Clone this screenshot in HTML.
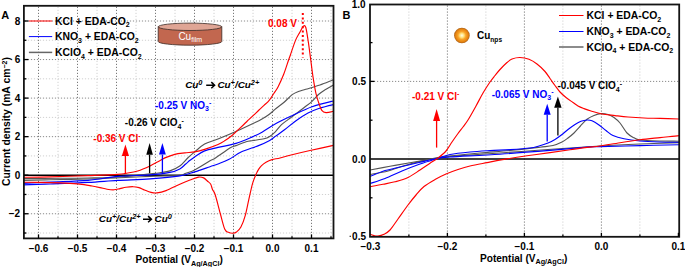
<!DOCTYPE html>
<html><head><meta charset="utf-8"><title>CV plots</title><style>html,body{margin:0;padding:0;background:#fff;width:685px;height:267px;overflow:hidden}svg{display:block}</style></head><body>
<svg width="685" height="267" viewBox="0 0 685 267">
<defs><clipPath id="ca"><rect x="23.9" y="5.8" width="309.6" height="232.6"/></clipPath>
<clipPath id="cb"><rect x="370.0" y="4.5" width="309.2" height="232.3"/></clipPath>
<radialGradient id="sph" cx="0.5" cy="0.5" r="0.5"><stop offset="0" stop-color="#fffde8"/><stop offset="0.28" stop-color="#ffe07a"/><stop offset="0.5" stop-color="#f9a52a"/><stop offset="0.82" stop-color="#e5820f"/><stop offset="1" stop-color="#a8601a"/></radialGradient>
</defs>
<rect width="685" height="267" fill="#ffffff"/>
<g><line x1="38.50" y1="6.8" x2="38.50" y2="237.4" stroke="#7a7a7a" stroke-width="1" stroke-dasharray="1.2,1.8"/><line x1="58.00" y1="6.8" x2="58.00" y2="237.4" stroke="#d0d0d0" stroke-width="1" stroke-dasharray="1.2,1.8"/><line x1="77.50" y1="6.8" x2="77.50" y2="237.4" stroke="#7a7a7a" stroke-width="1" stroke-dasharray="1.2,1.8"/><line x1="97.00" y1="6.8" x2="97.00" y2="237.4" stroke="#d0d0d0" stroke-width="1" stroke-dasharray="1.2,1.8"/><line x1="116.50" y1="6.8" x2="116.50" y2="237.4" stroke="#7a7a7a" stroke-width="1" stroke-dasharray="1.2,1.8"/><line x1="136.00" y1="6.8" x2="136.00" y2="237.4" stroke="#d0d0d0" stroke-width="1" stroke-dasharray="1.2,1.8"/><line x1="155.50" y1="6.8" x2="155.50" y2="237.4" stroke="#7a7a7a" stroke-width="1" stroke-dasharray="1.2,1.8"/><line x1="175.00" y1="6.8" x2="175.00" y2="237.4" stroke="#d0d0d0" stroke-width="1" stroke-dasharray="1.2,1.8"/><line x1="194.50" y1="6.8" x2="194.50" y2="237.4" stroke="#7a7a7a" stroke-width="1" stroke-dasharray="1.2,1.8"/><line x1="214.00" y1="6.8" x2="214.00" y2="237.4" stroke="#d0d0d0" stroke-width="1" stroke-dasharray="1.2,1.8"/><line x1="233.50" y1="6.8" x2="233.50" y2="237.4" stroke="#7a7a7a" stroke-width="1" stroke-dasharray="1.2,1.8"/><line x1="253.00" y1="6.8" x2="253.00" y2="237.4" stroke="#d0d0d0" stroke-width="1" stroke-dasharray="1.2,1.8"/><line x1="272.50" y1="6.8" x2="272.50" y2="237.4" stroke="#7a7a7a" stroke-width="1" stroke-dasharray="1.2,1.8"/><line x1="292.00" y1="6.8" x2="292.00" y2="237.4" stroke="#d0d0d0" stroke-width="1" stroke-dasharray="1.2,1.8"/><line x1="311.50" y1="6.8" x2="311.50" y2="237.4" stroke="#7a7a7a" stroke-width="1" stroke-dasharray="1.2,1.8"/><line x1="331.00" y1="6.8" x2="331.00" y2="237.4" stroke="#d0d0d0" stroke-width="1" stroke-dasharray="1.2,1.8"/><line x1="24.9" y1="233.02" x2="332.5" y2="233.02" stroke="#d0d0d0" stroke-width="1" stroke-dasharray="1.2,1.8"/><line x1="24.9" y1="213.75" x2="332.5" y2="213.75" stroke="#8a8a8a" stroke-width="1" stroke-dasharray="1.2,1.8"/><line x1="24.9" y1="194.47" x2="332.5" y2="194.47" stroke="#d0d0d0" stroke-width="1" stroke-dasharray="1.2,1.8"/><line x1="24.9" y1="155.92" x2="332.5" y2="155.92" stroke="#d0d0d0" stroke-width="1" stroke-dasharray="1.2,1.8"/><line x1="24.9" y1="136.65" x2="332.5" y2="136.65" stroke="#8a8a8a" stroke-width="1" stroke-dasharray="1.2,1.8"/><line x1="24.9" y1="117.38" x2="332.5" y2="117.38" stroke="#d0d0d0" stroke-width="1" stroke-dasharray="1.2,1.8"/><line x1="24.9" y1="98.10" x2="332.5" y2="98.10" stroke="#8a8a8a" stroke-width="1" stroke-dasharray="1.2,1.8"/><line x1="24.9" y1="78.82" x2="332.5" y2="78.82" stroke="#d0d0d0" stroke-width="1" stroke-dasharray="1.2,1.8"/><line x1="24.9" y1="59.55" x2="332.5" y2="59.55" stroke="#8a8a8a" stroke-width="1" stroke-dasharray="1.2,1.8"/><line x1="24.9" y1="40.28" x2="332.5" y2="40.28" stroke="#d0d0d0" stroke-width="1" stroke-dasharray="1.2,1.8"/><line x1="24.9" y1="21.00" x2="332.5" y2="21.00" stroke="#8a8a8a" stroke-width="1" stroke-dasharray="1.2,1.8"/></g>
<g><line x1="408.90" y1="5.5" x2="408.90" y2="235.8" stroke="#d0d0d0" stroke-width="1" stroke-dasharray="1.2,1.8"/><line x1="447.40" y1="5.5" x2="447.40" y2="235.8" stroke="#7a7a7a" stroke-width="1" stroke-dasharray="1.2,1.8"/><line x1="485.90" y1="5.5" x2="485.90" y2="235.8" stroke="#d0d0d0" stroke-width="1" stroke-dasharray="1.2,1.8"/><line x1="524.40" y1="5.5" x2="524.40" y2="235.8" stroke="#7a7a7a" stroke-width="1" stroke-dasharray="1.2,1.8"/><line x1="562.90" y1="5.5" x2="562.90" y2="235.8" stroke="#d0d0d0" stroke-width="1" stroke-dasharray="1.2,1.8"/><line x1="601.40" y1="5.5" x2="601.40" y2="235.8" stroke="#7a7a7a" stroke-width="1" stroke-dasharray="1.2,1.8"/><line x1="639.90" y1="5.5" x2="639.90" y2="235.8" stroke="#d0d0d0" stroke-width="1" stroke-dasharray="1.2,1.8"/><line x1="371.0" y1="81.40" x2="678.2" y2="81.40" stroke="#8a8a8a" stroke-width="1" stroke-dasharray="1.2,1.8"/></g>
<line x1="23.9" y1="175.20" x2="333.5" y2="175.20" stroke="#000" stroke-width="1.5"/>
<line x1="370.0" y1="159.00" x2="679.2" y2="159.00" stroke="#000" stroke-width="1.5"/>
<path d="M158.2,26.8 L158.2,41.5 A31.8,3.7 0 0 0 221.8,41.5 L221.8,26.8 Z" fill="#c2674f" stroke="#3a2a25" stroke-width="0.8"/>
<ellipse cx="190.0" cy="26.8" rx="31.8" ry="3.7" fill="#dfa595" stroke="#3a2a25" stroke-width="0.8"/>
<text x="178.4" y="39.5" font-family="Liberation Sans" font-size="10" fill="#ffffff">Cu<tspan font-size="7" dy="2.3">film</tspan></text>
<g clip-path="url(#ca)"><path d="M22.00,178.70 C28.33,178.63 49.00,178.42 60.00,178.30 C71.00,178.18 78.00,178.22 88.00,178.00 C98.00,177.78 109.67,177.68 120.00,177.00 C130.33,176.32 143.33,174.62 150.00,173.90 C156.67,173.18 156.68,173.20 160.00,172.70 C163.32,172.20 166.60,172.02 169.90,170.90 C173.20,169.78 176.83,168.15 179.80,166.00 C182.77,163.85 185.22,160.35 187.70,158.00 C190.18,155.65 191.88,154.23 194.70,151.90 C197.52,149.57 200.72,146.15 204.60,144.00 C208.48,141.85 212.32,141.30 218.00,139.00 C223.68,136.70 232.60,132.90 238.70,130.20 C244.80,127.50 250.72,124.67 254.60,122.80 C258.48,120.93 259.60,120.38 262.00,119.00 C264.40,117.62 266.67,116.25 269.00,114.50 C271.33,112.75 273.53,110.50 276.00,108.50 C278.47,106.50 281.03,104.85 283.80,102.50 C286.57,100.15 290.17,96.23 292.60,94.40 C295.03,92.57 296.22,92.35 298.40,91.50 C300.58,90.65 302.10,90.38 305.70,89.30 C309.30,88.22 315.38,86.58 320.00,85.00 C324.62,83.42 330.07,81.05 333.40,79.80 C336.73,78.55 338.90,77.88 340.00,77.50" fill="none" stroke="#555555" stroke-width="1.15"/><path d="M340.00,81.50 C338.90,82.08 335.95,83.58 333.40,85.00 C330.85,86.42 327.13,88.47 324.70,90.00 C322.27,91.53 320.92,92.32 318.80,94.20 C316.68,96.08 314.43,99.08 312.00,101.30 C309.57,103.52 306.80,105.47 304.20,107.50 C301.60,109.53 299.10,111.48 296.40,113.50 C293.70,115.52 290.48,117.75 288.00,119.60 C285.52,121.45 283.62,122.57 281.50,124.60 C279.38,126.63 277.27,129.83 275.30,131.80 C273.33,133.77 271.58,135.23 269.70,136.40 C267.82,137.57 266.80,138.12 264.00,138.80 C261.20,139.48 255.88,140.02 252.90,140.50 C249.92,140.98 248.92,140.85 246.10,141.70 C243.28,142.55 238.63,144.58 236.00,145.60 C233.37,146.62 233.72,145.73 230.30,147.80 C226.88,149.87 218.88,155.83 215.50,158.00 C212.12,160.17 213.47,158.82 210.00,160.80 C206.53,162.78 198.87,167.78 194.70,169.90 C190.53,172.02 187.48,172.58 185.00,173.50 C182.52,174.42 185.63,174.92 179.80,175.40 C173.97,175.88 159.97,176.00 150.00,176.40 C140.03,176.80 130.33,177.37 120.00,177.80 C109.67,178.23 99.67,178.67 88.00,179.00 C76.33,179.33 61.00,179.57 50.00,179.80 C39.00,180.03 26.67,180.30 22.00,180.40" fill="none" stroke="#555555" stroke-width="1.15"/><path d="M22.00,183.40 C26.67,183.17 39.00,182.50 50.00,182.00 C61.00,181.50 76.70,181.33 88.00,180.40 C99.30,179.47 107.47,177.32 117.80,176.40 C128.13,175.48 141.32,175.57 150.00,174.90 C158.68,174.23 164.93,173.40 169.90,172.40 C174.87,171.40 177.17,170.30 179.80,168.90 C182.43,167.50 184.00,165.43 185.70,164.00 C187.40,162.57 188.50,161.48 190.00,160.30 C191.50,159.12 192.27,158.47 194.70,156.90 C197.13,155.33 200.72,152.48 204.60,150.90 C208.48,149.32 212.77,148.65 218.00,147.40 C223.23,146.15 230.18,145.20 236.00,143.40 C241.82,141.60 248.57,138.47 252.90,136.60 C257.23,134.73 258.15,134.37 262.00,132.20 C265.85,130.03 271.00,126.35 276.00,123.60 C281.00,120.85 286.00,118.52 292.00,115.70 C298.00,112.88 305.10,109.15 312.00,106.70 C318.90,104.25 328.73,102.12 333.40,101.00 C338.07,99.88 338.90,100.17 340.00,100.00" fill="none" stroke="#0000ff" stroke-width="1.15"/><path d="M340.00,103.50 C338.90,103.68 336.93,103.77 333.40,104.60 C329.87,105.43 323.03,107.10 318.80,108.50 C314.57,109.90 311.80,110.97 308.00,113.00 C304.20,115.03 299.92,117.90 296.00,120.70 C292.08,123.50 287.95,127.18 284.50,129.80 C281.05,132.42 277.77,134.63 275.30,136.40 C272.83,138.17 272.50,138.87 269.70,140.40 C266.90,141.93 263.18,143.70 258.50,145.60 C253.82,147.50 246.58,149.47 241.60,151.80 C236.62,154.13 232.53,157.57 228.60,159.60 C224.67,161.63 221.10,162.82 218.00,164.00 C214.90,165.18 213.88,165.38 210.00,166.70 C206.12,168.02 199.73,170.37 194.70,171.90 C189.67,173.43 187.25,174.73 179.80,175.90 C172.35,177.07 160.33,178.15 150.00,178.90 C139.67,179.65 128.13,179.82 117.80,180.40 C107.47,180.98 99.30,181.80 88.00,182.40 C76.70,183.00 61.00,183.58 50.00,184.00 C39.00,184.42 26.67,184.75 22.00,184.90" fill="none" stroke="#0000ff" stroke-width="1.15"/><path d="M22.00,177.30 C26.67,177.23 39.00,177.18 50.00,176.90 C61.00,176.62 76.70,176.02 88.00,175.60 C99.30,175.18 111.52,174.77 117.80,174.40 C124.08,174.03 122.38,173.97 125.70,173.40 C129.02,172.83 133.65,172.23 137.70,171.00 C141.75,169.77 146.55,167.60 150.00,166.00 C153.45,164.40 155.92,162.75 158.40,161.40 C160.88,160.05 162.17,159.07 164.90,157.90 C167.63,156.73 171.48,155.23 174.80,154.40 C178.12,153.57 181.48,153.32 184.80,152.90 C188.12,152.48 191.40,152.48 194.70,151.90 C198.00,151.32 200.72,150.63 204.60,149.40 C208.48,148.17 214.60,145.97 218.00,144.50 C221.40,143.03 222.67,142.10 225.00,140.60 C227.33,139.10 229.83,137.28 232.00,135.50 C234.17,133.72 236.03,131.73 238.00,129.90 C239.97,128.07 242.00,126.20 243.80,124.50 C245.60,122.80 247.12,121.30 248.80,119.70 C250.48,118.10 252.20,116.52 253.90,114.90 C255.60,113.28 257.32,111.58 259.00,110.00 C260.68,108.42 262.30,107.02 264.00,105.40 C265.70,103.78 267.53,102.33 269.20,100.30 C270.87,98.27 272.53,95.42 274.00,93.20 C275.47,90.98 276.37,90.20 278.00,87.00 C279.63,83.80 282.07,78.42 283.80,74.00 C285.53,69.58 287.30,63.67 288.40,60.50 C289.50,57.33 289.22,58.35 290.40,55.00 C291.58,51.65 293.90,44.23 295.50,40.40 C297.10,36.57 298.70,34.37 300.00,32.00 C301.30,29.63 302.33,26.95 303.30,26.20 C304.27,25.45 304.97,24.88 305.80,27.50 C306.63,30.12 307.50,36.70 308.30,41.90 C309.10,47.10 309.82,52.87 310.60,58.70 C311.38,64.53 312.10,71.07 313.00,76.90 C313.90,82.73 315.03,89.35 316.00,93.70 C316.97,98.05 317.83,100.22 318.80,103.00 C319.77,105.78 320.60,108.80 321.80,110.40 C323.00,112.00 324.07,112.47 326.00,112.60 C327.93,112.73 331.07,111.80 333.40,111.20 C335.73,110.60 338.07,106.70 340.00,109.00 C341.93,111.30 345.00,119.17 345.00,125.00 C345.00,130.83 341.93,140.60 340.00,144.00 C338.07,147.40 338.40,144.32 333.40,145.40 C328.40,146.48 317.07,148.90 310.00,150.50 C302.93,152.10 296.00,153.75 291.00,155.00 C286.00,156.25 283.17,157.23 280.00,158.00 C276.83,158.77 274.33,158.90 272.00,159.60 C269.67,160.30 267.78,161.17 266.00,162.20 C264.22,163.23 262.55,164.58 261.30,165.80 C260.05,167.02 259.35,168.15 258.50,169.50 C257.65,170.85 257.18,171.58 256.20,173.90 C255.22,176.22 253.80,179.27 252.60,183.40 C251.40,187.53 250.22,193.37 249.00,198.70 C247.78,204.03 246.65,210.67 245.30,215.40 C243.95,220.13 242.37,224.33 240.90,227.10 C239.43,229.87 237.85,230.98 236.50,232.00 C235.15,233.02 234.13,233.15 232.80,233.20 C231.47,233.25 229.83,232.95 228.50,232.30 C227.17,231.65 226.15,232.35 224.80,229.30 C223.45,226.25 221.98,219.72 220.40,214.00 C218.82,208.28 216.62,199.08 215.30,195.00 C213.98,190.92 213.28,191.33 212.50,189.50 C211.72,187.67 211.47,185.42 210.60,184.00 C209.73,182.58 208.47,182.02 207.30,181.00 C206.13,179.98 205.07,178.55 203.60,177.90 C202.13,177.25 200.77,176.75 198.50,177.10 C196.23,177.45 193.12,178.82 190.00,180.00 C186.88,181.18 183.80,182.43 179.80,184.20 C175.80,185.97 169.80,189.15 166.00,190.60 C162.20,192.05 159.50,192.60 157.00,192.90 C154.50,193.20 153.08,192.88 151.00,192.40 C148.92,191.92 146.50,190.80 144.50,190.00 C142.50,189.20 140.92,188.15 139.00,187.60 C137.08,187.05 135.17,186.75 133.00,186.70 C130.83,186.65 128.17,186.98 126.00,187.30 C123.83,187.62 122.00,188.18 120.00,188.60 C118.00,189.02 116.17,189.70 114.00,189.80 C111.83,189.90 109.33,189.57 107.00,189.20 C104.67,188.83 102.50,188.13 100.00,187.60 C97.50,187.07 94.67,186.50 92.00,186.00 C89.33,185.50 87.67,185.03 84.00,184.60 C80.33,184.17 75.67,183.73 70.00,183.40 C64.33,183.07 58.00,182.80 50.00,182.60 C42.00,182.40 26.67,182.27 22.00,182.20" fill="none" stroke="#ff0000" stroke-width="1.15"/></g>
<g clip-path="url(#cb)"><path d="M366.00,175.30 C366.67,175.17 366.33,175.22 370.00,174.50 C373.67,173.78 381.33,172.75 388.00,171.00 C394.67,169.25 401.67,166.23 410.00,164.00 C418.33,161.77 431.33,158.93 438.00,157.60 C444.67,156.27 443.00,156.77 450.00,156.00 C457.00,155.23 470.00,153.92 480.00,153.00 C490.00,152.08 500.00,151.47 510.00,150.50 C520.00,149.53 532.83,148.03 540.00,147.20 C547.17,146.37 549.33,146.37 553.00,145.50 C556.67,144.63 559.50,143.25 562.00,142.00 C564.50,140.75 566.00,139.50 568.00,138.00 C570.00,136.50 572.00,134.92 574.00,133.00 C576.00,131.08 577.83,128.80 580.00,126.50 C582.17,124.20 584.67,121.03 587.00,119.20 C589.33,117.37 591.67,116.43 594.00,115.50 C596.33,114.57 598.67,113.77 601.00,113.60 C603.33,113.43 605.83,113.85 608.00,114.50 C610.17,115.15 612.00,116.08 614.00,117.50 C616.00,118.92 617.83,120.42 620.00,123.00 C622.17,125.58 624.67,130.53 627.00,133.00 C629.33,135.47 631.83,136.63 634.00,137.80 C636.17,138.97 635.67,139.47 640.00,140.00 C644.33,140.53 653.50,140.80 660.00,141.00 C666.50,141.20 674.67,141.15 679.00,141.20 C683.33,141.25 684.83,141.28 686.00,141.30" fill="none" stroke="#555555" stroke-width="1.15"/><path d="M686.00,142.60 C684.83,142.60 686.67,142.37 679.00,142.60 C671.33,142.83 653.17,143.43 640.00,144.00 C626.83,144.57 615.33,145.08 600.00,146.00 C584.67,146.92 564.67,148.33 548.00,149.50 C531.33,150.67 516.33,151.85 500.00,153.00 C483.67,154.15 460.33,155.57 450.00,156.40 C439.67,157.23 444.67,156.93 438.00,158.00 C431.33,159.07 418.00,161.42 410.00,162.80 C402.00,164.18 396.67,165.10 390.00,166.30 C383.33,167.50 374.00,169.25 370.00,170.00 C366.00,170.75 366.67,170.67 366.00,170.80" fill="none" stroke="#555555" stroke-width="1.15"/><path d="M366.00,184.70 C366.67,184.50 366.83,184.53 370.00,183.50 C373.17,182.47 379.67,180.58 385.00,178.50 C390.33,176.42 396.17,173.42 402.00,171.00 C407.83,168.58 414.00,166.13 420.00,164.00 C426.00,161.87 433.00,159.78 438.00,158.20 C443.00,156.62 444.67,155.53 450.00,154.50 C455.33,153.47 463.33,152.65 470.00,152.00 C476.67,151.35 483.33,151.00 490.00,150.60 C496.67,150.20 503.33,150.03 510.00,149.60 C516.67,149.17 525.17,148.60 530.00,148.00 C534.83,147.40 536.00,146.83 539.00,146.00 C542.00,145.17 545.33,144.08 548.00,143.00 C550.67,141.92 552.83,140.78 555.00,139.50 C557.17,138.22 558.83,136.97 561.00,135.30 C563.17,133.63 565.67,131.30 568.00,129.50 C570.33,127.70 572.83,125.87 575.00,124.50 C577.17,123.13 579.00,122.05 581.00,121.30 C583.00,120.55 585.17,120.08 587.00,120.00 C588.83,119.92 590.00,119.97 592.00,120.80 C594.00,121.63 596.67,123.38 599.00,125.00 C601.33,126.62 603.67,128.75 606.00,130.50 C608.33,132.25 610.00,134.12 613.00,135.50 C616.00,136.88 619.50,137.88 624.00,138.80 C628.50,139.72 634.00,140.47 640.00,141.00 C646.00,141.53 653.50,141.78 660.00,142.00 C666.50,142.22 674.67,142.23 679.00,142.30 C683.33,142.37 684.83,142.38 686.00,142.40" fill="none" stroke="#0000ff" stroke-width="1.15"/><path d="M686.00,144.60 C684.83,144.62 686.67,144.53 679.00,144.70 C671.33,144.87 653.17,145.28 640.00,145.60 C626.83,145.92 608.83,146.35 600.00,146.60 C591.17,146.85 595.33,146.47 587.00,147.10 C578.67,147.73 564.50,149.22 550.00,150.40 C535.50,151.58 516.67,153.10 500.00,154.20 C483.33,155.30 460.33,156.32 450.00,157.00 C439.67,157.68 443.00,157.42 438.00,158.30 C433.00,159.18 426.33,160.85 420.00,162.30 C413.67,163.75 406.17,165.52 400.00,167.00 C393.83,168.48 388.00,169.62 383.00,171.20 C378.00,172.78 372.83,175.48 370.00,176.50 C367.17,177.52 366.67,177.17 366.00,177.30" fill="none" stroke="#0000ff" stroke-width="1.15"/><path d="M366.00,232.00 C366.67,232.37 368.67,233.60 370.00,234.20 C371.33,234.80 372.67,235.30 374.00,235.60 C375.33,235.90 376.33,236.23 378.00,236.00 C379.67,235.77 382.00,235.20 384.00,234.20 C386.00,233.20 387.67,232.53 390.00,230.00 C392.33,227.47 395.00,223.17 398.00,219.00 C401.00,214.83 405.00,209.00 408.00,205.00 C411.00,201.00 413.33,198.08 416.00,195.00 C418.67,191.92 420.83,189.08 424.00,186.50 C427.17,183.92 431.33,181.58 435.00,179.50 C438.67,177.42 442.17,175.67 446.00,174.00 C449.83,172.33 454.00,170.83 458.00,169.50 C462.00,168.17 465.17,167.15 470.00,166.00 C474.83,164.85 481.33,163.70 487.00,162.60 C492.67,161.50 497.33,160.53 504.00,159.40 C510.67,158.27 519.33,156.93 527.00,155.80 C534.67,154.67 542.83,153.60 550.00,152.60 C557.17,151.60 563.83,150.67 570.00,149.80 C576.17,148.93 582.00,148.03 587.00,147.40 C592.00,146.77 594.50,146.78 600.00,146.00 C605.50,145.22 613.33,143.73 620.00,142.70 C626.67,141.67 633.33,140.65 640.00,139.80 C646.67,138.95 653.50,138.30 660.00,137.60 C666.50,136.90 674.67,136.12 679.00,135.60 C683.33,135.08 684.17,135.93 686.00,134.50 C687.83,133.07 690.00,129.55 690.00,127.00 C690.00,124.45 687.83,120.53 686.00,119.20 C684.17,117.87 683.33,119.13 679.00,119.00 C674.67,118.87 665.83,118.57 660.00,118.40 C654.17,118.23 649.33,118.23 644.00,118.00 C638.67,117.77 632.83,117.40 628.00,117.00 C623.17,116.60 619.33,116.10 615.00,115.60 C610.67,115.10 606.00,114.77 602.00,114.00 C598.00,113.23 594.00,111.90 591.00,111.00 C588.00,110.10 586.17,109.43 584.00,108.60 C581.83,107.77 579.83,107.02 578.00,106.00 C576.17,104.98 575.00,103.92 573.00,102.50 C571.00,101.08 568.17,99.25 566.00,97.50 C563.83,95.75 561.83,94.00 560.00,92.00 C558.17,90.00 556.67,87.75 555.00,85.50 C553.33,83.25 551.67,80.83 550.00,78.50 C548.33,76.17 547.17,73.92 545.00,71.50 C542.83,69.08 539.67,66.03 537.00,64.00 C534.33,61.97 531.83,60.38 529.00,59.30 C526.17,58.22 522.83,57.55 520.00,57.50 C517.17,57.45 514.17,58.17 512.00,59.00 C509.83,59.83 509.00,60.75 507.00,62.50 C505.00,64.25 502.00,67.33 500.00,69.50 C498.00,71.67 496.67,73.42 495.00,75.50 C493.33,77.58 492.00,79.08 490.00,82.00 C488.00,84.92 485.33,89.00 483.00,93.00 C480.67,97.00 478.50,101.50 476.00,106.00 C473.50,110.50 470.17,116.50 468.00,120.00 C465.83,123.50 464.67,124.75 463.00,127.00 C461.33,129.25 459.83,131.00 458.00,133.50 C456.17,136.00 454.00,139.08 452.00,142.00 C450.00,144.92 448.33,148.33 446.00,151.00 C443.67,153.67 440.67,155.95 438.00,158.00 C435.33,160.05 433.00,161.30 430.00,163.30 C427.00,165.30 423.67,167.63 420.00,170.00 C416.33,172.37 412.17,175.53 408.00,177.50 C403.83,179.47 399.17,180.67 395.00,181.80 C390.83,182.93 387.17,183.47 383.00,184.30 C378.83,185.13 372.83,186.30 370.00,186.80 C367.17,187.30 366.67,187.22 366.00,187.30" fill="none" stroke="#ff0000" stroke-width="1.15"/></g>
<line x1="302.8" y1="13" x2="302.8" y2="57.5" stroke="#ff0000" stroke-width="2" stroke-dasharray="2,2.4"/>
<line x1="125.4" y1="156.0" x2="125.4" y2="174.0" stroke="#ff0000" stroke-width="1.3"/><path d="M125.4,144.5 L121.80000000000001,156.0 L129.0,156.0 Z" fill="#ff0000"/>
<line x1="149.6" y1="154.8" x2="149.6" y2="173.2" stroke="#000000" stroke-width="1.3"/><path d="M149.6,143.0 L146.29999999999998,154.8 L152.9,154.8 Z" fill="#000000"/>
<line x1="162.4" y1="154.6" x2="162.4" y2="172.8" stroke="#0000ff" stroke-width="1.3"/><path d="M162.4,143.0 L159.0,154.6 L165.8,154.6 Z" fill="#0000ff"/>
<line x1="436.6" y1="121.0" x2="436.6" y2="147.6" stroke="#ff0000" stroke-width="1.3"/><path d="M436.6,109.0 L433.1,121.0 L440.1,121.0 Z" fill="#ff0000"/>
<line x1="547.2" y1="114.7" x2="547.2" y2="141.6" stroke="#0000ff" stroke-width="1.3"/><path d="M547.2,103.7 L543.7,114.7 L550.7,114.7 Z" fill="#0000ff"/>
<line x1="557.9" y1="107.8" x2="557.9" y2="135.5" stroke="#000000" stroke-width="1.3"/><path d="M557.9,96.5 L554.1999999999999,107.8 L561.6,107.8 Z" fill="#000000"/>
<circle cx="461.9" cy="35.5" r="7.8" fill="url(#sph)"/>
<rect x="23.9" y="5.8" width="309.6" height="232.6" fill="none" stroke="#141414" stroke-width="1.8"/>
<rect x="370.0" y="4.5" width="309.2" height="232.3" fill="none" stroke="#141414" stroke-width="1.8"/>
<line x1="38.50" y1="238.4" x2="38.50" y2="234.4" stroke="#000" stroke-width="1.3"/><line x1="58.00" y1="238.4" x2="58.00" y2="236.20000000000002" stroke="#000" stroke-width="1.3"/><line x1="77.50" y1="238.4" x2="77.50" y2="234.4" stroke="#000" stroke-width="1.3"/><line x1="97.00" y1="238.4" x2="97.00" y2="236.20000000000002" stroke="#000" stroke-width="1.3"/><line x1="116.50" y1="238.4" x2="116.50" y2="234.4" stroke="#000" stroke-width="1.3"/><line x1="136.00" y1="238.4" x2="136.00" y2="236.20000000000002" stroke="#000" stroke-width="1.3"/><line x1="155.50" y1="238.4" x2="155.50" y2="234.4" stroke="#000" stroke-width="1.3"/><line x1="175.00" y1="238.4" x2="175.00" y2="236.20000000000002" stroke="#000" stroke-width="1.3"/><line x1="194.50" y1="238.4" x2="194.50" y2="234.4" stroke="#000" stroke-width="1.3"/><line x1="214.00" y1="238.4" x2="214.00" y2="236.20000000000002" stroke="#000" stroke-width="1.3"/><line x1="233.50" y1="238.4" x2="233.50" y2="234.4" stroke="#000" stroke-width="1.3"/><line x1="253.00" y1="238.4" x2="253.00" y2="236.20000000000002" stroke="#000" stroke-width="1.3"/><line x1="272.50" y1="238.4" x2="272.50" y2="234.4" stroke="#000" stroke-width="1.3"/><line x1="292.00" y1="238.4" x2="292.00" y2="236.20000000000002" stroke="#000" stroke-width="1.3"/><line x1="311.50" y1="238.4" x2="311.50" y2="234.4" stroke="#000" stroke-width="1.3"/><line x1="331.00" y1="238.4" x2="331.00" y2="236.20000000000002" stroke="#000" stroke-width="1.3"/><line x1="23.9" y1="233.02" x2="26.4" y2="233.02" stroke="#000" stroke-width="1.3"/><line x1="23.9" y1="213.75" x2="28.4" y2="213.75" stroke="#000" stroke-width="1.3"/><line x1="23.9" y1="194.47" x2="26.4" y2="194.47" stroke="#000" stroke-width="1.3"/><line x1="23.9" y1="175.20" x2="28.4" y2="175.20" stroke="#000" stroke-width="1.3"/><line x1="23.9" y1="155.92" x2="26.4" y2="155.92" stroke="#000" stroke-width="1.3"/><line x1="23.9" y1="136.65" x2="28.4" y2="136.65" stroke="#000" stroke-width="1.3"/><line x1="23.9" y1="117.38" x2="26.4" y2="117.38" stroke="#000" stroke-width="1.3"/><line x1="23.9" y1="98.10" x2="28.4" y2="98.10" stroke="#000" stroke-width="1.3"/><line x1="23.9" y1="78.82" x2="26.4" y2="78.82" stroke="#000" stroke-width="1.3"/><line x1="23.9" y1="59.55" x2="28.4" y2="59.55" stroke="#000" stroke-width="1.3"/><line x1="23.9" y1="40.28" x2="26.4" y2="40.28" stroke="#000" stroke-width="1.3"/><line x1="23.9" y1="21.00" x2="28.4" y2="21.00" stroke="#000" stroke-width="1.3"/><line x1="408.90" y1="236.8" x2="408.90" y2="234.60000000000002" stroke="#000" stroke-width="1.3"/><line x1="447.40" y1="236.8" x2="447.40" y2="232.8" stroke="#000" stroke-width="1.3"/><line x1="485.90" y1="236.8" x2="485.90" y2="234.60000000000002" stroke="#000" stroke-width="1.3"/><line x1="524.40" y1="236.8" x2="524.40" y2="232.8" stroke="#000" stroke-width="1.3"/><line x1="562.90" y1="236.8" x2="562.90" y2="234.60000000000002" stroke="#000" stroke-width="1.3"/><line x1="601.40" y1="236.8" x2="601.40" y2="232.8" stroke="#000" stroke-width="1.3"/><line x1="639.90" y1="236.8" x2="639.90" y2="234.60000000000002" stroke="#000" stroke-width="1.3"/><line x1="678.40" y1="236.8" x2="678.40" y2="232.8" stroke="#000" stroke-width="1.3"/><line x1="370.0" y1="197.80" x2="372.5" y2="197.80" stroke="#000" stroke-width="1.3"/><line x1="370.0" y1="120.20" x2="372.5" y2="120.20" stroke="#000" stroke-width="1.3"/><line x1="370.0" y1="81.40" x2="374.5" y2="81.40" stroke="#000" stroke-width="1.3"/><line x1="370.0" y1="42.60" x2="372.5" y2="42.60" stroke="#000" stroke-width="1.3"/>
<text x="20.2" y="24.60" text-anchor="end" font-family="Liberation Sans" font-weight="bold" font-size="10">8</text><text x="20.2" y="63.15" text-anchor="end" font-family="Liberation Sans" font-weight="bold" font-size="10">6</text><text x="20.2" y="101.70" text-anchor="end" font-family="Liberation Sans" font-weight="bold" font-size="10">4</text><text x="20.2" y="140.25" text-anchor="end" font-family="Liberation Sans" font-weight="bold" font-size="10">2</text><text x="20.2" y="178.80" text-anchor="end" font-family="Liberation Sans" font-weight="bold" font-size="10">0</text><text x="20.2" y="217.35" text-anchor="end" font-family="Liberation Sans" font-weight="bold" font-size="10">−2</text><text x="38.50" y="251.8" text-anchor="middle" font-family="Liberation Sans" font-weight="bold" font-size="10">−0.6</text><text x="77.50" y="251.8" text-anchor="middle" font-family="Liberation Sans" font-weight="bold" font-size="10">−0.5</text><text x="116.50" y="251.8" text-anchor="middle" font-family="Liberation Sans" font-weight="bold" font-size="10">−0.4</text><text x="155.50" y="251.8" text-anchor="middle" font-family="Liberation Sans" font-weight="bold" font-size="10">−0.3</text><text x="194.50" y="251.8" text-anchor="middle" font-family="Liberation Sans" font-weight="bold" font-size="10">−0.2</text><text x="233.50" y="251.8" text-anchor="middle" font-family="Liberation Sans" font-weight="bold" font-size="10">−0.1</text><text x="272.50" y="251.8" text-anchor="middle" font-family="Liberation Sans" font-weight="bold" font-size="10">0.0</text><text x="311.50" y="251.8" text-anchor="middle" font-family="Liberation Sans" font-weight="bold" font-size="10">0.1</text><text x="365.6" y="8.00" text-anchor="end" font-family="Liberation Sans" font-weight="bold" font-size="10">1.0</text><text x="366" y="85.00" text-anchor="end" font-family="Liberation Sans" font-weight="bold" font-size="10">0.5</text><text x="366" y="162.60" text-anchor="end" font-family="Liberation Sans" font-weight="bold" font-size="10">0.0</text><text x="366" y="240.20" text-anchor="end" font-family="Liberation Sans" font-weight="bold" font-size="10">0.5</text><text x="370.40" y="250.0" text-anchor="middle" font-family="Liberation Sans" font-weight="bold" font-size="10">−0.3</text><text x="447.40" y="250.0" text-anchor="middle" font-family="Liberation Sans" font-weight="bold" font-size="10">−0.2</text><text x="524.40" y="250.0" text-anchor="middle" font-family="Liberation Sans" font-weight="bold" font-size="10">−0.1</text><text x="601.40" y="250.0" text-anchor="middle" font-family="Liberation Sans" font-weight="bold" font-size="10">0.0</text><text x="678.40" y="250.0" text-anchor="middle" font-family="Liberation Sans" font-weight="bold" font-size="10">0.1</text><rect x="349.6" y="235.7" width="1.3" height="1.3" fill="#333"/>
<text x="135.5" y="263.3" font-family="Liberation Sans" font-weight="bold" font-size="10.1">Potential (V<tspan font-size="7.2" dy="2.6">Ag/AgCl</tspan><tspan dy="-2.6">)</tspan></text>
<text x="480" y="261.6" font-family="Liberation Sans" font-weight="bold" font-size="10.1">Potential (V<tspan font-size="7.2" dy="2.6">Ag/AgCl</tspan><tspan dy="-2.6">)</tspan></text>
<text transform="translate(10.1,186) rotate(-90)" font-family="Liberation Sans" font-weight="bold" font-size="10.4">Current density (mA cm<tspan font-size="7" dy="-3.5">−2</tspan><tspan dy="3.5">)</tspan></text>
<text x="1.2" y="19.1" font-family="Liberation Sans" font-weight="bold" font-size="11">A</text>
<text x="342.5" y="19.1" font-family="Liberation Sans" font-weight="bold" font-size="11">B</text>
<line x1="28.9" y1="21.0" x2="52.2" y2="21.0" stroke="#ff0000" stroke-width="1.0"/><text x="55.0" y="24.60" font-family="Liberation Sans" font-weight="bold" font-size="10.4">KCl + EDA-CO<tspan font-size="7" dy="2.5">2</tspan></text><line x1="28.9" y1="36.6" x2="52.2" y2="36.6" stroke="#0000ff" stroke-width="1.0"/><text x="55.0" y="40.20" font-family="Liberation Sans" font-weight="bold" font-size="10.4">KNO<tspan font-size="7" dy="2.5">3</tspan><tspan dy="-2.5"> + EDA-CO</tspan><tspan font-size="7" dy="2.5">2</tspan></text><line x1="28.9" y1="52.4" x2="52.2" y2="52.4" stroke="#666666" stroke-width="1.5"/><text x="55.0" y="56.00" font-family="Liberation Sans" font-weight="bold" font-size="10.4">KClO<tspan font-size="7" dy="2.5">4</tspan><tspan dy="-2.5"> + EDA-CO</tspan><tspan font-size="7" dy="2.5">2</tspan></text>
<line x1="559" y1="15.5" x2="583.5" y2="15.5" stroke="#ff0000" stroke-width="1.0"/><text x="586.6" y="19.10" font-family="Liberation Sans" font-weight="bold" font-size="10.4">KCl + EDA-CO<tspan font-size="7" dy="2.5">2</tspan></text><line x1="559" y1="31.5" x2="583.5" y2="31.5" stroke="#0000ff" stroke-width="1.0"/><text x="586.6" y="35.10" font-family="Liberation Sans" font-weight="bold" font-size="10.4">KNO<tspan font-size="7" dy="2.5">3</tspan><tspan dy="-2.5"> + EDA-CO</tspan><tspan font-size="7" dy="2.5">2</tspan></text><line x1="559" y1="47.0" x2="583.5" y2="47.0" stroke="#666666" stroke-width="1.5"/><text x="586.6" y="50.60" font-family="Liberation Sans" font-weight="bold" font-size="10.4">KClO<tspan font-size="7" dy="2.5">4</tspan><tspan dy="-2.5"> + EDA-CO</tspan><tspan font-size="7" dy="2.5">2</tspan></text>
<text x="268" y="26.6" font-family="Liberation Sans" font-weight="bold" font-size="10" fill="#ff0000">0.08 V</text>
<text x="185.2" y="87.6" font-family="Liberation Sans" font-weight="bold" font-style="italic" font-size="9.9">Cu<tspan font-size="7.4" dy="-3.0">0</tspan></text>
<path d="M206.2,85.2 L214.0,85.2 M211.29999999999998,82.10000000000001 L214.6,85.2 L211.29999999999998,88.3" fill="none" stroke="#000" stroke-width="1.5" stroke-linejoin="miter"/>
<text x="217.4" y="87.6" font-family="Liberation Sans" font-weight="bold" font-style="italic" font-size="9.9">Cu<tspan font-size="7.4" dy="-3.0">+</tspan><tspan dy="3.0">/Cu</tspan><tspan font-size="7.4" dy="-3.0">2+</tspan></text>
<text x="155" y="108.6" font-family="Liberation Sans" font-weight="bold" font-size="10" fill="#0000ff">-0.25 V NO<tspan font-size="7" dy="2.5">3</tspan><tspan font-size="7" dy="-6">-</tspan></text>
<text x="124.8" y="126" font-family="Liberation Sans" font-weight="bold" font-size="10">-0.26 V ClO<tspan font-size="7" dy="2.5">4</tspan><tspan font-size="7" dy="-6">-</tspan></text>
<text x="93.3" y="142" font-family="Liberation Sans" font-weight="bold" font-size="10" fill="#ff0000">-0.36 V Cl<tspan font-size="7" dy="-4">-</tspan></text>
<text x="98.8" y="221.8" font-family="Liberation Sans" font-weight="bold" font-style="italic" font-size="9.9">Cu<tspan font-size="7.4" dy="-3.0">+</tspan><tspan dy="3.0">/Cu</tspan><tspan font-size="7.4" dy="-3.0">2+</tspan></text>
<path d="M143.0,219.2 L150.8,219.2 M148.1,216.1 L151.4,219.2 L148.1,222.29999999999998" fill="none" stroke="#000" stroke-width="1.5" stroke-linejoin="miter"/>
<text x="154.6" y="221.8" font-family="Liberation Sans" font-weight="bold" font-style="italic" font-size="9.9">Cu<tspan font-size="7.4" dy="-3.0">0</tspan></text>
<text x="477" y="39.4" font-family="Liberation Sans" font-weight="bold" font-size="10">Cu<tspan font-size="6.6" dy="2.6">nps</tspan></text>
<text x="412" y="100" font-family="Liberation Sans" font-weight="bold" font-size="10" fill="#ff0000">-0.21 V Cl<tspan font-size="7" dy="-4">-</tspan></text>
<text x="491.7" y="97.8" font-family="Liberation Sans" font-weight="bold" font-size="10" fill="#0000ff">-0.065 V NO<tspan font-size="7" dy="2.5">3</tspan><tspan font-size="7" dy="-6">-</tspan></text>
<text x="557.5" y="89.2" font-family="Liberation Sans" font-weight="bold" font-size="10">-0.045 V ClO<tspan font-size="7" dy="2.5">4</tspan><tspan font-size="7" dy="-6">-</tspan></text>
</svg>
</body></html>
